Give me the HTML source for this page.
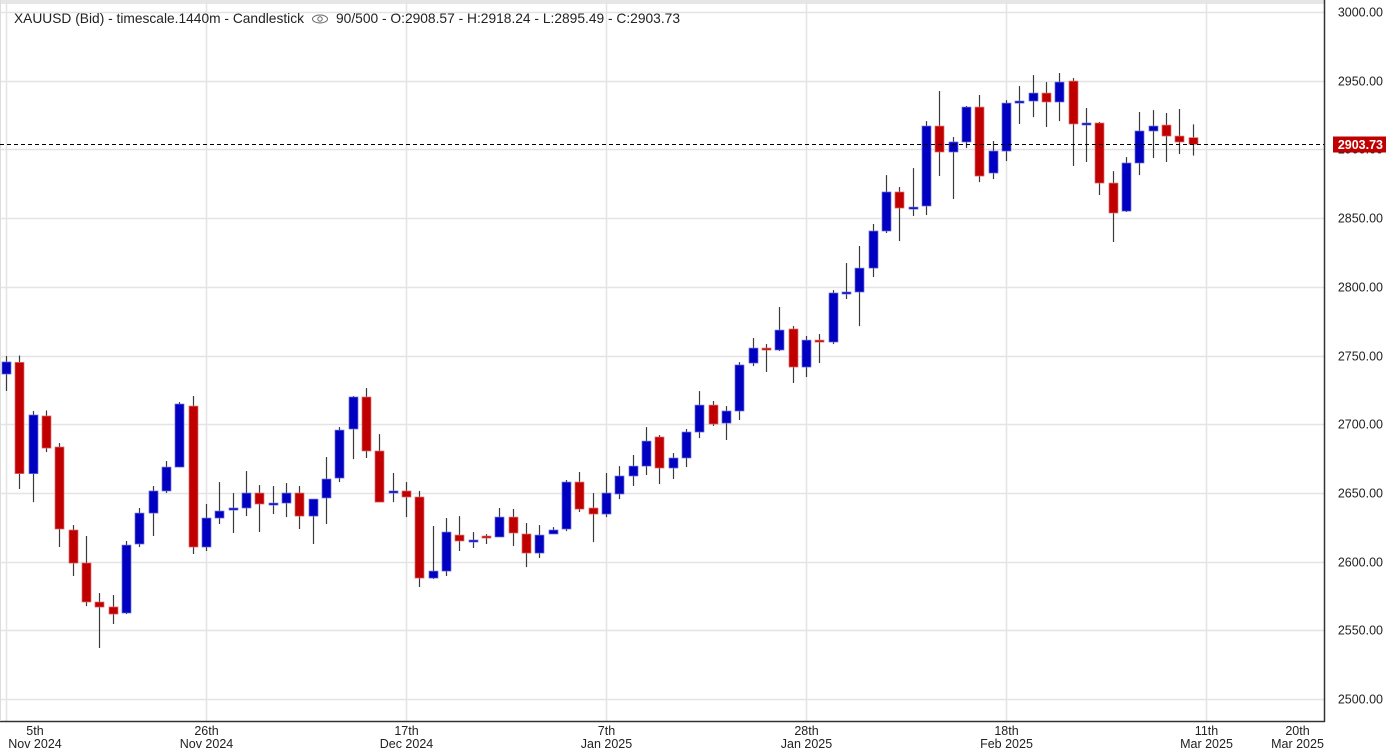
<!DOCTYPE html>
<html><head><meta charset="utf-8"><style>
html,body{margin:0;padding:0;background:#fff;}
svg{display:block;font-family:"Liberation Sans",Arial,sans-serif;}
</style></head><body>
<svg id="chart" width="1387" height="751" viewBox="0 0 1387 751">
<rect x="0" y="0" width="1387" height="751" fill="#fff"/>
<rect x="0" y="0" width="1324" height="4" fill="#e6e6e6"/>
<g id="grid"></g>
<g id="candles"></g>
<g id="axes"></g>
<text x="14" y="23" font-size="13.8" fill="#222" textLength="290" lengthAdjust="spacingAndGlyphs">XAUUSD (Bid) - timescale.1440m - Candlestick</text>
<text x="336" y="23" font-size="13.8" fill="#222" textLength="344" lengthAdjust="spacingAndGlyphs">90/500 - O:2908.57 - H:2918.24 - L:2895.49 - C:2903.73</text>
<g transform="translate(320,19)">
<ellipse cx="0" cy="0" rx="7.5" ry="4" fill="none" stroke="#666" stroke-width="1"/>
<circle cx="0" cy="0" r="2.2" fill="none" stroke="#666" stroke-width="1"/>
</g>
</svg>
<script>
const opens=[2736.5,2745,2664,2706,2683.4,2623,2599,2570.6,2567,2562.6,2612.8,2635.3,2651.4,2668.8,2713.2,2610.6,2631.7,2637.5,2639,2649.9,2641.9,2642.6,2649.9,2633.1,2646.3,2660.8,2696.5,2719.8,2680.5,2649.9,2651.4,2647,2588,2593.1,2619.3,2615,2618.6,2617.9,2632.4,2620.1,2606.2,2620.1,2623.7,2657.9,2639,2634.6,2649.2,2662.3,2669.5,2690.7,2668.1,2675.4,2694.3,2713.9,2700.8,2709.6,2744.5,2755.4,2754,2769.3,2741.6,2761.2,2759.8,2795.5,2796.2,2813.6,2840.6,2869,2857.3,2858.8,2917,2898.1,2905.4,2930.8,2882.8,2898.8,2933.7,2935.2,2941,2934.5,2949.7,2918.5,2919.2,2875.5,2855.1,2890.1,2913.4,2917.7,2909.7,2908.57];
const highs=[2749.6,2750,2709.6,2710,2686.3,2626.6,2618.6,2577.1,2575.7,2615,2639,2655,2673.2,2716.1,2720.5,2641.9,2657.9,2649.9,2665.9,2655.7,2655,2657.2,2655,2645.5,2676.1,2697.9,2720.5,2726.3,2692.8,2664.5,2657.9,2651.4,2625.9,2631.7,2633.1,2621.5,2620,2639,2638.3,2628.1,2626.6,2625.1,2659.4,2665.2,2649.9,2664.5,2669.5,2677.6,2697.9,2692.1,2679,2696.5,2724.1,2716.9,2713.2,2745.2,2762.7,2758.3,2785.3,2771.4,2764.2,2765.6,2797.6,2817.3,2829.7,2845.7,2881.3,2872.6,2886.4,2920.6,2942.5,2909,2931.6,2939.6,2906.1,2935.9,2946.1,2954.1,2949,2955.6,2951.9,2930.1,2920,2884.2,2894.4,2927.2,2928.6,2926.5,2929.4,2918.24];
const lows=[2724.2,2652.8,2643.3,2679.7,2610.6,2589.5,2567.6,2537.1,2554.6,2561.8,2610.6,2618.6,2649.9,2668.5,2605.5,2607.7,2627.3,2620.8,2633.1,2621.5,2634.6,2632.4,2623.7,2612.8,2627.3,2657.9,2674.6,2675.4,2643.3,2643.3,2632.4,2581.5,2587.3,2589.5,2607.7,2609.9,2612.8,2617.9,2611.3,2596,2602.6,2620.1,2622.2,2636.1,2614.2,2632.4,2645.5,2655,2663,2656.4,2660.1,2668.8,2689.9,2698.7,2688.5,2703,2742.3,2738,2753.2,2730,2734.3,2744.5,2758.3,2791.1,2771.4,2807.1,2839.1,2833.3,2851.5,2852.2,2880.6,2863.9,2901,2876.2,2878.4,2891.5,2918.5,2923.5,2916.3,2920.6,2887.9,2890.8,2866.8,2832.6,2854.4,2881.3,2893.7,2890.8,2896.6,2895.49];
const closes=[2745.3,2664,2706.7,2682.6,2623.7,2598.9,2570.6,2566.9,2561.8,2612,2635.3,2651.4,2668.8,2714.7,2610.6,2631.7,2636.8,2639,2649.9,2641.9,2642.6,2649.9,2633.1,2645.5,2660.1,2695.7,2719.8,2680.5,2643.3,2651.4,2647,2588,2593.1,2621.5,2615,2615.7,2617.9,2632.4,2620.8,2606.2,2619.3,2623,2657.9,2638.2,2634.6,2649.9,2662.3,2669.5,2687.7,2668.1,2675.4,2694.3,2713.9,2700.1,2709.6,2743.1,2755.4,2754,2768.5,2741.6,2761.2,2759.8,2795.5,2796.2,2813.6,2840.6,2869,2857.3,2858,2917,2898.1,2905.4,2930.8,2880.6,2898.8,2933.7,2935.2,2941,2934.5,2949,2918.5,2919.2,2875.5,2853.7,2890.1,2913.4,2917,2909.7,2905.4,2903.73];
const priceTicks=[3000,2950,2900,2850,2800,2750,2700,2650,2600,2550,2500];
const dateTickIdx=[0,15,30,45,60,75,90,96.8];
const dateTickDay=["5th","26th","17th","7th","28th","18th","11th","20th"];
const dateTickMonth=["Nov 2024","Nov 2024","Dec 2024","Jan 2025","Jan 2025","Feb 2025","Mar 2025","Mar 2025"];
const lastPrice=2903.73;

const NS="http://www.w3.org/2000/svg";
const PLOT_R=1324, PLOT_B=721;
function xOf(i){return 6+i*13.333;}
function yOf(v){return 12+(3000-v)*1.374;}
function mk(tag,attrs,parent){const e=document.createElementNS(NS,tag);for(const k in attrs)e.setAttribute(k,attrs[k]);parent.appendChild(e);return e;}
const grid=document.getElementById('grid'),cg=document.getElementById('candles'),ax=document.getElementById('axes');

priceTicks.forEach(v=>{
  const y=Math.round(yOf(v))+0.5;
  const l=mk('line',{x1:0,x2:PLOT_R,y1:y,y2:y,stroke:'#e4e4e4','stroke-width':1.5},grid);
  
  
  const t=mk('text',{x:1383,y:y+4,'font-size':12.5,'text-anchor':'end',fill:'#222'},ax);
  t.textContent=v.toFixed(2);
  
  
});
dateTickIdx.forEach((ix,k)=>{
  const x=Math.round(xOf(ix))+0.5;
  if(ix<=90){
    const l=mk('line',{x1:x,x2:x,y1:0,y2:PLOT_B,stroke:'#e4e4e4','stroke-width':1.5},grid);
    
    
  }
  const cx=Math.max(35,x);
  const t1=mk('text',{x:cx,y:735,'font-size':12.5,'text-anchor':'middle',fill:'#222'},ax);
  t1.textContent=dateTickDay[k];
  
  
  const t2=mk('text',{x:cx,y:748,'font-size':12.5,'text-anchor':'middle',fill:'#222'},ax);
  t2.textContent=dateTickMonth[k];
  
  
});
const b1=mk('line',{x1:PLOT_R+0.5,x2:PLOT_R+0.5,y1:0,y2:PLOT_B+1,stroke:'#333','stroke-width':1.5},ax);


const b2=mk('line',{x1:0,x2:PLOT_R+1,y1:PLOT_B+0.5,y2:PLOT_B+0.5,stroke:'#333','stroke-width':1.5},ax);


const b3=mk('line',{x1:0.5,x2:0.5,y1:0,y2:PLOT_B,stroke:'#ddd','stroke-width':1},ax);



for(let i=0;i<opens.length;i++){
  const x=xOf(i), o=opens[i], c=closes[i];
  const up=c>=o;
  const g=mk('g',{},cg);
  
  
  mk('line',{x1:Math.round(x)+0.5,x2:Math.round(x)+0.5,y1:yOf(highs[i]),y2:yOf(lows[i]),stroke:'#3a3a3a','stroke-width':1.2},g);
  const top=yOf(Math.max(o,c)), h=Math.max(2,yOf(Math.min(o,c))-top);
  mk('rect',{x:Math.round(x)-4,y:top,width:9,height:h,fill:up?'#0000c0':'#c00000',stroke:up?'#7070e0':'#e07070','stroke-width':0.7},g);
}
const ly=Math.round(yOf(lastPrice))+0.5;
const dl=mk('line',{x1:0,x2:PLOT_R,y1:ly,y2:ly,stroke:'#000','stroke-width':1,'stroke-dasharray':'4,3'},ax);


const lb=mk('rect',{x:1333,y:ly-8,width:53,height:16,fill:'#c00000'},ax);


const lt=mk('text',{x:1383,y:ly+4.5,'font-size':12.5,'text-anchor':'end',fill:'#fff','font-weight':'bold'},ax);
lt.textContent=lastPrice.toFixed(2);


</script>
</body></html>
